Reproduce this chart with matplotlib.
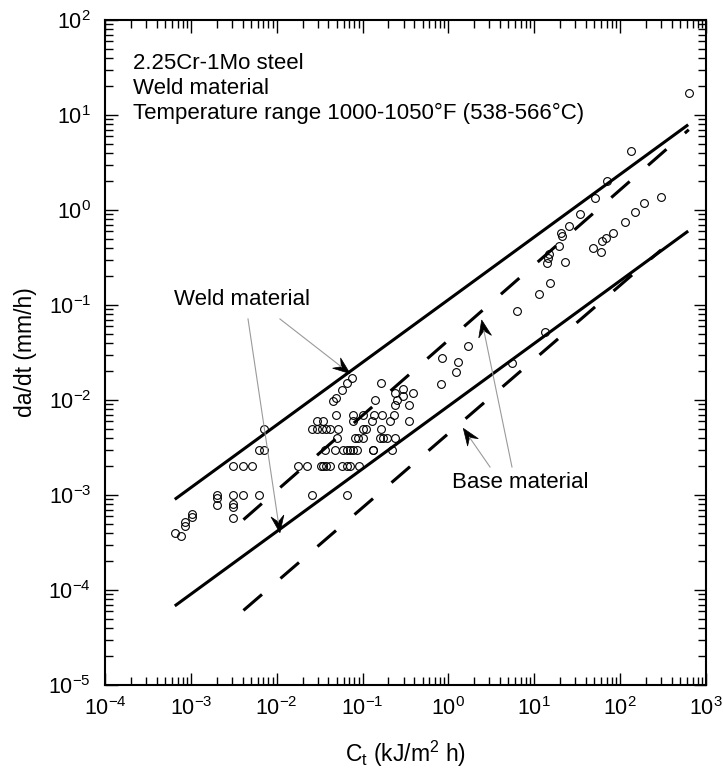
import numpy as np
import matplotlib
matplotlib.use("Agg")
import matplotlib.pyplot as plt
from matplotlib.patches import Polygon
from matplotlib.lines import Line2D
from matplotlib.transforms import IdentityTransform
from matplotlib.ticker import LogLocator, NullFormatter

plt.rcParams["font.family"] = ["Liberation Sans", "DejaVu Sans"]
plt.rcParams["mathtext.fontset"] = "custom"
plt.rcParams["mathtext.rm"] = "Liberation Sans"
plt.rcParams["mathtext.it"] = "Liberation Sans:italic"
plt.rcParams["mathtext.bf"] = "Liberation Sans:bold"
plt.rcParams["axes.unicode_minus"] = False

# Creep crack growth data, weld material (Ct in kJ/m^2 h, da/dt in mm/h)
ct = [6.5e-4, 7.6e-4, 8.5e-4, 8.5e-4, 1.04e-3, 1.04e-3,
      2.0e-3, 2.0e-3, 2.0e-3, 3.1e-3, 4.1e-3, 5.1e-3, 3.1e-3, 4.1e-3, 6.2e-3,
      3.1e-3, 3.1e-3, 3.1e-3, 6.2e-3, 7.2e-3, 7.2e-3,
      0.0175, 0.0223, 0.0328, 0.0349, 0.038, 0.0418, 0.0571, 0.065, 0.0714, 0.092,
      0.0255, 0.066,
      0.0365, 0.0477, 0.0596, 0.065, 0.0714, 0.078, 0.0854, 0.131, 0.134, 0.218,
      0.0499, 0.0816, 0.0891, 0.102, 0.16, 0.174, 0.191, 0.241,
      0.0255, 0.0292, 0.0334, 0.0375, 0.0423, 0.0517, 0.102, 0.111, 0.166,
      0.0292, 0.0349, 0.078, 0.128, 0.206, 0.35,
      0.049, 0.078, 0.102, 0.135, 0.17, 0.234,
      0.1395, 0.25, 0.238, 0.35, 0.0456, 0.049, 0.293,
      0.0571, 0.066, 0.0747, 0.166, 0.238, 0.298, 0.384,
      0.835, 1.31, 1.67, 1.21, 0.81, 5.43, 6.34, 11.5, 15.2, 13.5,
      13.9, 14.6, 15.0, 19.4, 20.5, 21.0, 23.0, 25.4, 34.1, 50.9, 69.5, 132.6,
      47.9, 59.3, 61.5, 68.4, 81.9, 113.9, 148.9, 191.0, 299.0, 639.0]
dadt = [4.0e-4, 3.7e-4, 5.2e-4, 4.7e-4, 6.3e-4, 5.8e-4,
        1.0e-3, 9.4e-4, 7.9e-4, 2.0e-3, 2.0e-3, 2.0e-3, 1.0e-3, 1.0e-3, 1.0e-3,
        8.0e-4, 7.4e-4, 5.7e-4, 3.0e-3, 3.0e-3, 5.0e-3,
        2e-3, 2e-3, 2e-3, 2e-3, 2e-3, 2e-3, 2e-3, 2e-3, 2e-3, 2e-3,
        1e-3, 1e-3,
        3e-3, 3e-3, 3e-3, 3e-3, 3e-3, 3e-3, 3e-3, 3e-3, 3e-3, 3e-3,
        4e-3, 4e-3, 4e-3, 4e-3, 4e-3, 4e-3, 4e-3, 4e-3,
        5e-3, 5e-3, 5e-3, 5e-3, 5e-3, 5e-3, 5e-3, 5e-3, 5e-3,
        6e-3, 6e-3, 6e-3, 6e-3, 6e-3, 6e-3,
        7e-3, 7e-3, 7e-3, 7e-3, 7e-3, 7e-3,
        0.010, 0.010, 0.0089, 0.0089, 0.0098, 0.0105, 0.011,
        0.0128, 0.015, 0.0169, 0.015, 0.0118, 0.013, 0.0119,
        0.0277, 0.0254, 0.0367, 0.0197, 0.0149, 0.0248, 0.0875, 0.13, 0.1725, 0.0516,
        0.28, 0.3125, 0.344, 0.421, 0.568, 0.532, 0.281, 0.679, 0.908, 1.33, 2.03, 4.21,
        0.395, 0.359, 0.475, 0.511, 0.568, 0.753, 0.96, 1.18, 1.38, 17.2]

# Scatter bands: weld material (solid) and base material (dashed)
weld_ct = [6.5e-4, 620.0]
weld_upper = [9.0e-4, 7.9]
weld_lower = [6.8e-5, 0.60]
base_upper_ct = [4.1e-3, 630.0]
base_upper = [5.5e-4, 7.0]
base_lower_ct = [4.1e-3, 300.0]
base_lower = [6.1e-5, 0.38]

xticks = [1e-4, 1e-3, 1e-2, 1e-1, 1e0, 1e1, 1e2, 1e3]
yticks = [1e-5, 1e-4, 1e-3, 1e-2, 1e-1, 1e0, 1e1, 1e2]

W, H = 723, 776
fig = plt.figure(figsize=(W / 100, H / 100), dpi=100)
ax = fig.add_axes([105 / W, 1 - 685 / H, 601 / W, 665 / H])
ax.set_xscale("log")
ax.set_yscale("log")
ax.set_xlim(1e-4, 1e3)
ax.set_ylim(1e-5, 1e2)

lw = 2.2
ax.plot(weld_ct, weld_upper, color="black", lw=lw, solid_capstyle="butt")
ax.plot(weld_ct, weld_lower, color="black", lw=lw, solid_capstyle="butt")
ax.plot(base_upper_ct, base_upper, color="black", lw=lw, dashes=(8, 8),
        dash_capstyle="butt")
ax.plot(base_lower_ct, base_lower, color="black", lw=lw, dashes=(8, 8),
        dash_capstyle="butt")

ax.plot(ct, dadt, "o", mfc="none", mec="black", ms=5.6, mew=0.8)

ax.set_xticks(xticks)
ax.set_yticks(yticks)
ax.xaxis.set_minor_locator(LogLocator(base=10, subs=np.arange(2, 10), numticks=30))
ax.yaxis.set_minor_locator(LogLocator(base=10, subs=np.arange(2, 10), numticks=30))
ax.xaxis.set_minor_formatter(NullFormatter())
ax.yaxis.set_minor_formatter(NullFormatter())
ax.tick_params(which="both", direction="in", top=True, right=True, width=1.0)
ax.tick_params(which="major", length=9, labelsize=15.5)
ax.tick_params(axis="x", which="major", pad=9)
ax.tick_params(axis="y", which="major", pad=10)
ax.tick_params(which="minor", length=5.5)
for sp in ax.spines.values():
    sp.set_linewidth(1.5)

ax.set_xlabel(r"C$_\mathrm{t}$ (kJ/m$^2$ h)", fontsize=16.5, labelpad=13)
ax.set_ylabel("da/dt (mm/h)", fontsize=16.5, labelpad=8)

for i, s in enumerate(["2.25Cr-1Mo steel", "Weld material",
                       "Temperature range 1000-1050\u00b0F (538-566\u00b0C)"]):
    ax.text(0.0466, 0.934 - i * 0.0376, s, transform=ax.transAxes,
            fontsize=16, va="center", ha="left")

ax.text(3.94e-3, 0.113, "Weld material", fontsize=16, ha="center", va="center")
ax.text(6.8, 1.34e-3, "Base material", fontsize=16, ha="center", va="center")


def leader(start, tip, L=17.0, Wd=13.0, notch=6.0):
    """Thin grey leader line ending in a black notched arrowhead."""
    p0 = ax.transData.transform(start)
    p1 = ax.transData.transform(tip)
    d = p1 - p0
    u = d / np.hypot(*d)
    n = np.array([-u[1], u[0]])
    back = p1 - u * L
    inner = p1 - u * (L - notch)
    ax.add_line(Line2D([p0[0], inner[0]], [p0[1], inner[1]], color="#9a9a9a",
                       lw=0.8, transform=IdentityTransform()))
    ax.add_patch(Polygon([p1, back + n * Wd / 2, inner, back - n * Wd / 2],
                         closed=True, fc="black", ec="black", lw=0.5,
                         transform=IdentityTransform()))


leader((0.0109, 0.0713), (0.0714, 0.019))
leader((4.63e-3, 0.0713), (0.0109, 4.0e-4))
leader((3.05, 1.97e-3), (1.49, 5.03e-3))
leader((5.5, 1.97e-3), (2.44, 0.0695))

fig.savefig("out.png", dpi=100)
